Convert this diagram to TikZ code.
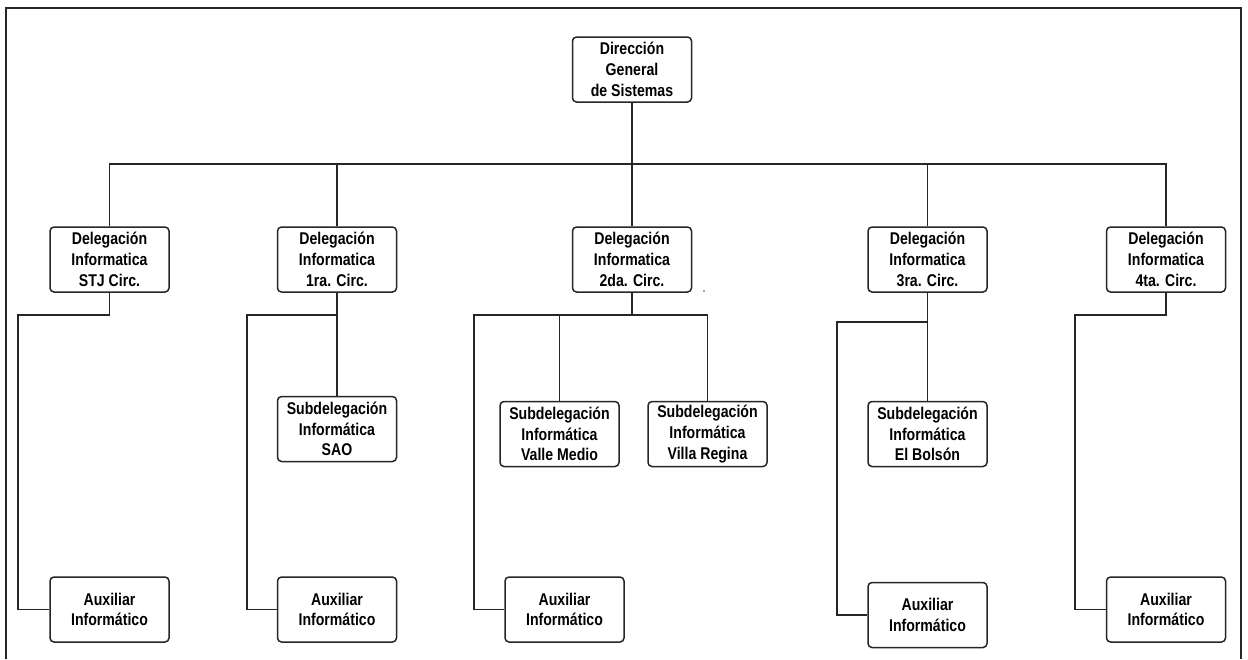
\documentclass[tikz,border=0pt]{standalone}
\usepackage{fontspec}
\setmainfont{Liberation Sans}[FakeStretch=0.83]
\begin{document}
\begin{tikzpicture}[x=1pt,y=-1pt,
  line/.style={draw=black!85,line width=1.5pt},
  box/.style={line, rounded corners=4pt, fill=white, minimum width=119pt, minimum height=65pt,
    inner sep=0pt, align=center, font=\fontsize{17}{20.7}\selectfont\bfseries},
  wire/.style={line},
  buswire/.style={draw=black!85,line width=2.2pt}]
\useasboundingbox (0,0) rectangle (1248,659);
\fill[white] (0,0) rectangle (1248,659);
% frame
\draw[line] (6,659) -- (6,8) -- (1241,8) -- (1241,659);
% nodes
\node[box] (top) at (632,69.5) {Dirección\\General\\de Sistemas};
\node[box] (d0) at (109.5,259.5) {Delegación\\Informatica\\STJ Circ.};
\node[box] (d1) at (337,259.5) {Delegación\\Informatica\\1ra. Circ.};
\node[box] (d2) at (632,259.5) {Delegación\\Informatica\\2da. Circ.};
\node[box] (d3) at (927.5,259.5) {Delegación\\Informatica\\3ra. Circ.};
\node[box] (d4) at (1166,259.5) {Delegación\\Informatica\\4ta. Circ.};
\node[box] (s1) at (337,429) {Subdelegación\\Informática\\SAO};
\node[box] (s2a) at (559.5,434) {Subdelegación\\Informática\\Valle Medio};
\node[box] (s2b) at (707.5,434) {Subdelegación\\Informática\\Villa Regina};
\node[box] (s3) at (927.5,434) {Subdelegación\\Informática\\El Bolsón};
\node[box] (a0) at (109.5,609.5) {Auxiliar\\Informático};
\node[box] (a1) at (337,609.5) {Auxiliar\\Informático};
\node[box] (a2) at (564.5,609.5) {Auxiliar\\Informático};
\node[box] (a3) at (927.5,615) {Auxiliar\\Informático};
\node[box] (a4) at (1166,609.5) {Auxiliar\\Informático};
% coordinates
\coordinate (bus) at (632,164);
\coordinate (c0) at (18,315);
\coordinate (c1) at (247,315);
\coordinate (c2) at (474,315);
\coordinate (c2r) at (707.5,315);
\coordinate (c3) at (837,322);
\coordinate (c4) at (1075,315);
% top level
\draw[wire] (top.south) -- (d2.north);
\draw[wire] (d0.north) |- (bus) -| (d4.north);
\draw[buswire] (d1.north |- bus) -- (d3.north |- bus);
\draw[wire] (d1.north) -- (d1.north |- bus);
\draw[wire] (d3.north) -- (d3.north |- bus);
% STJ
\draw[wire] (d0.south) |- (c0) |- (a0.west);
% 1ra
\draw[wire] (d1.south) |- (c1) |- (a1.west);
\draw[wire] (d1.south) -- (s1.north);
% 2da
\draw[wire] (d2.south) |- (c2) |- (a2.west);
\draw[wire] (d2.south) |- (c2r) -- (s2b.north);
\draw[wire] (s2a.north) -- (s2a.north |- c2);
% 3ra
\draw[wire] (d3.south) |- (c3) |- (a3.west);
\draw[wire] (d3.south) -- (s3.north);
% 4ta
\draw[wire] (d4.south) |- (c4) |- (a4.west);
% stray dot
\fill[black!70] (704,291) circle (0.8pt);
\end{tikzpicture}
\end{document}
